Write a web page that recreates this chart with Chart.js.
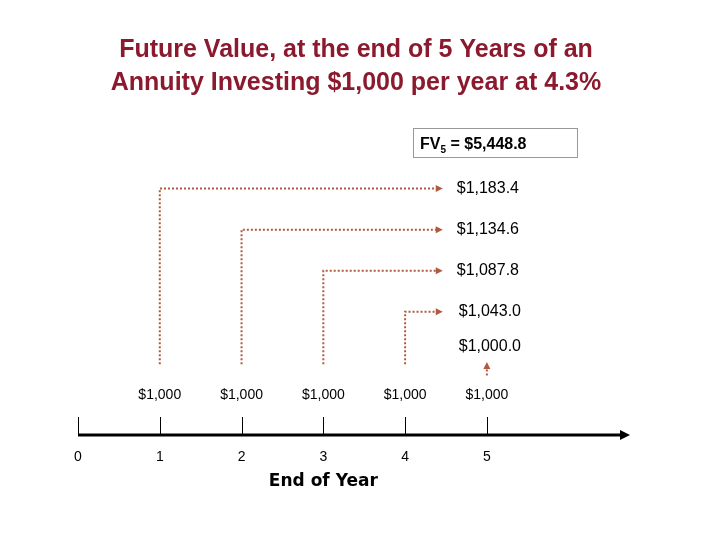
<!DOCTYPE html>
<html><head><meta charset="utf-8">
<script src="https://cdn.jsdelivr.net/npm/chart.js@4"></script>
<style>html,body{margin:0;padding:0;background:#fff}#w{width:720px;height:540px}</style>
</head><body><div id="w"><canvas id="c"></canvas></div>
<script>
const years = [0, 1, 2, 3, 4, 5];
const payments = [null, 1000, 1000, 1000, 1000, 1000];
const compounded = [1183.4, 1134.6, 1087.8, 1043.0, 1000.0]; // from years 1..5
const fvTotal = 5448.8;
const rate = 4.3;
const titleLines = ["Future Value, at the end of 5 Years of an", "Annuity Investing $1,000 per year at 4.3%"];
const axisTitle = "End of Year";

const rows = [6, 5, 4, 3, 2.15];      // row (y units) for each compounded value
const arrowEndX = 4.46;                // where horizontal arrows end (x units)
const lineStart = 1.72;
const red = '#B05A40';

const fmt0 = v => '$' + v.toLocaleString('en-US', {maximumFractionDigits: 0});
const fmt1 = v => '$' + v.toLocaleString('en-US', {minimumFractionDigits: 1, maximumFractionDigits: 1});

const datasets = [];
for (let i = 0; i < 4; i++) {
  const yr = years[i + 1];
  datasets.push({data: [{x: yr, y: lineStart}, {x: yr, y: rows[i]}, {x: arrowEndX - 0.05, y: rows[i]}],
    borderColor: red, borderWidth: 2, borderDash: [2, 2], pointRadius: 0, fill: false});
}
datasets.push({data: [{x: years[5], y: 1.45}, {x: years[5], y: 1.7}],
  borderColor: red, borderWidth: 2, borderDash: [2, 2], pointRadius: 0});

const deco = {
  id: 'deco',
  afterDraw(ch) {
    const c = ch.ctx, xs = ch.scales.x, ys = ch.scales.y;
    const X = v => xs.getPixelForValue(v), Y = v => ys.getPixelForValue(v);
    c.save();
    // title
    c.fillStyle = '#8B1A2E'; c.font = 'bold 25px "Liberation Sans", Arial'; c.textAlign = 'center'; c.textBaseline = 'alphabetic';
    c.fillText(titleLines[0], 356, 57); c.fillText(titleLines[1], 356, 90);
    // arrowheads
    c.fillStyle = red;
    for (let i = 0; i < 4; i++) {
      const px = X(arrowEndX), py = Y(rows[i]);
      c.beginPath(); c.moveTo(px, py); c.lineTo(px - 7, py - 3.5); c.lineTo(px - 7, py + 3.5); c.closePath(); c.fill();
    }
    { const px = X(years[5]), py = Y(1.78);
      c.beginPath(); c.moveTo(px, py); c.lineTo(px - 3.5, py + 7); c.lineTo(px + 3.5, py + 7); c.closePath(); c.fill(); }
    // value labels
    c.fillStyle = '#000'; c.font = '16px "Liberation Sans", Arial'; c.textAlign = 'left'; c.textBaseline = 'middle';
    compounded.forEach((v, i) => c.fillText(fmt1(v), X(arrowEndX) + 14 + (i >= 3 ? 2 : 0), Y(rows[i])));
    // FV box
    c.strokeStyle = '#999'; c.lineWidth = 1; c.strokeRect(413.5, 128.5, 164, 29);
    c.font = 'bold 16px "Liberation Sans", Arial'; c.textBaseline = 'alphabetic';
    c.fillText('FV', 420, 149); let w = c.measureText('FV').width;
    c.font = 'bold 10px "Liberation Sans", Arial'; c.fillText(String(years.length - 1), 420 + w, 153);
    const w2 = c.measureText('5').width;
    c.font = 'bold 16px "Liberation Sans", Arial'; c.fillText(' = ' + fmt1(fvTotal), 420 + w + w2, 149);
    // timeline
    const y0 = Y(0);
    c.strokeStyle = '#000'; c.lineWidth = 3;
    c.beginPath(); c.moveTo(X(0), y0); c.lineTo(xs.right - 8, y0); c.stroke();
    c.fillStyle = '#000'; c.beginPath(); c.moveTo(xs.right, y0); c.lineTo(xs.right - 10, y0 - 5); c.lineTo(xs.right - 10, y0 + 5); c.closePath(); c.fill();
    c.lineWidth = 1;
    years.forEach(yr => { const px = Math.round(X(yr)) + 0.5; c.beginPath(); c.moveTo(px, y0 - 18); c.lineTo(px, y0); c.stroke(); });
    c.font = '14px "Liberation Sans", Arial'; c.textAlign = 'center'; c.textBaseline = 'middle';
    years.forEach(yr => c.fillText(String(yr), X(yr), y0 + 22));
    payments.forEach((p, i) => { if (p != null) c.fillText(fmt0(p), X(years[i]), y0 - 40); });
    c.font = 'bold 17px "DejaVu Sans", Arial'; c.fillText(axisTitle, X(3), y0 + 47);
    c.restore();
  }
};

new Chart(document.getElementById('c'), {
  type: 'line',
  data: {datasets},
  options: {
    responsive: true, maintainAspectRatio: false, animation: false,
    layout: {padding: {left: 78, right: 90, top: 127, bottom: 105}},
    plugins: {legend: {display: false}, tooltip: {enabled: false}, title: {display: false}},
    scales: {
      x: {type: 'linear', min: 0, max: 6.75, display: false},
      y: {type: 'linear', min: 0, max: 7.5, display: false}
    }
  },
  plugins: [deco]
});
</script></body></html>
